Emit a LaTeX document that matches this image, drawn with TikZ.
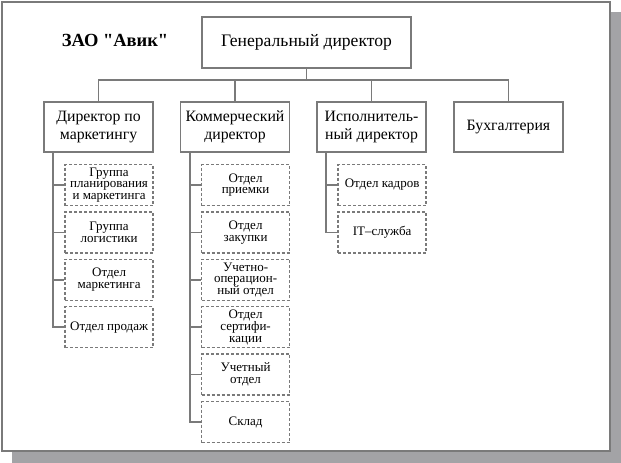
\documentclass[tikz,border=0pt]{standalone}
\usepackage{fontspec}
\setmainfont{Liberation Serif}
\newcommand\plainquote{\XeTeXglyph\XeTeXcharglyph34\relax}
\usetikzlibrary{positioning}
\definecolor{linegray}{HTML}{7A7A7A}
\definecolor{shadowgray}{HTML}{A3A3A6}
\tikzset{
    unit/.style={draw=linegray, line width=1.6pt, align=center, minimum width=109pt, minimum height=50pt, inner sep=2pt, font=\fontsize{15.8}{17.5}\selectfont},
    dept/.style={draw=linegray, line width=1.4pt, dash pattern=on 3pt off 2pt, align=center, minimum width=88pt, minimum height=41pt, inner sep=1pt, font=\fontsize{13}{11.8}\selectfont},
    link/.style={draw=linegray, line width=1.6pt},
}

\begin{document}
\begin{tikzpicture}[x=1pt,y=-1pt]
    \useasboundingbox (0,0) rectangle (621,463);

    % Frame with shadow
    \fill[shadowgray] (12,12) rectangle (621,463);
    \draw[linegray, line width=2pt, fill=white] (2,2) rectangle (610,451);

    % Company name
    \node[font=\bfseries\fontsize{18.5}{18.5}\selectfont] (title) at (115,40) {ЗАО \plainquote Авик\plainquote};

    % Head
    \node[unit, minimum width=209pt, minimum height=51pt, font=\fontsize{17.6}{17.6}\selectfont] (gen) at (306.5,42.5) {Генеральный директор};

    % Directors
    \node[unit] (mkt) at (98.5,127) {Директор по\\маркетингу};
    \node[unit] (com) at (235,127) {Коммерческий\\директор};
    \node[unit] (exe) at (371.5,127) {Исполнитель-\\ный директор};
    \node[unit] (buh) at (508.5,127) {Бухгалтерия};

    % Marketing departments
    \node[dept, below=11pt of mkt.south east, anchor=north east] (mkt1) {Группа\\планирования\\и маркетинга};
    \node[dept, below=5pt of mkt1] (mkt2) {Группа\\логистики};
    \node[dept, below=5pt of mkt2] (mkt3) {Отдел\\маркетинга};
    \node[dept, below=5pt of mkt3] (mkt4) {Отдел продаж};

    % Commercial departments
    \node[dept, below=11pt of com.south east, anchor=north east] (com1) {Отдел\\приемки};
    \node[dept, below=5pt of com1] (com2) {Отдел\\закупки};
    \node[dept, below=5pt of com2] (com3) {Учетно-\\операцион-\\ный отдел};
    \node[dept, below=5pt of com3] (com4) {Отдел\\сертифи-\\кации};
    \node[dept, below=5pt of com4] (com5) {Учетный\\отдел};
    \node[dept, below=5pt of com5] (com6) {Склад};

    % Executive departments
    \node[dept, below=11pt of exe.south east, anchor=north east] (exe1) {Отдел кадров};
    \node[dept, below=5pt of exe1] (exe2) {IT–служба};

    % Relationships
    \foreach \n in {mkt,com,exe,buh}
        \draw[link] (gen.south) -- ++(0,11) -| (\n.north);

    \coordinate (mktbus) at ([xshift=10pt]mkt.south west);
    \coordinate (combus) at ([xshift=10pt]com.south west);
    \coordinate (exebus) at ([xshift=10pt]exe.south west);
    \foreach \d in {mkt1,mkt2,mkt3,mkt4}
        \draw[link] (mktbus) |- (\d.west);
    \foreach \d in {com1,com2,com3,com4,com5,com6}
        \draw[link] (combus) |- (\d.west);
    \foreach \d in {exe1,exe2}
        \draw[link] (exebus) |- (\d.west);

\end{tikzpicture}
\end{document}
